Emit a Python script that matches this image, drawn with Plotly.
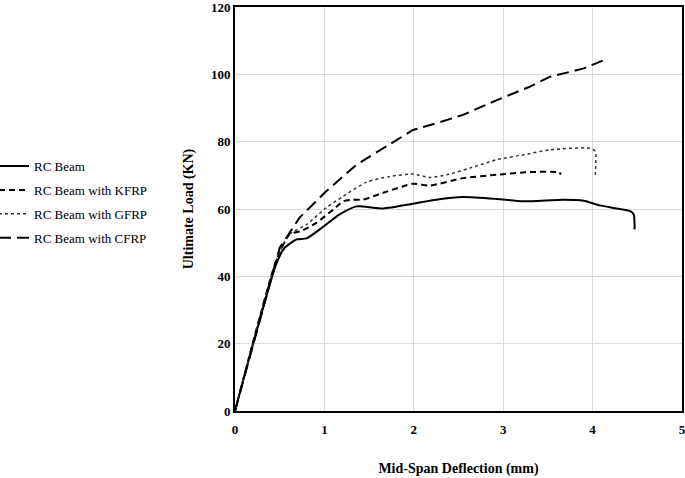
import plotly.graph_objects as go

# Data
rc_x = [0, 0.46, 0.556, 0.69, 0.80, 0.97, 1.17, 1.36, 1.66, 1.99, 2.25, 2.55, 2.93, 3.22, 3.67, 3.90, 4.08, 4.27, 4.42, 4.46, 4.47]
rc_y = [0, 43.6, 48.5, 51.0, 51.3, 54.4, 58.4, 60.8, 60.2, 61.6, 62.8, 63.6, 63.0, 62.3, 62.8, 62.5, 61.1, 60.2, 59.4, 58.4, 53.9]

kfrp_x = [0, 0.46, 0.61, 0.74, 0.91, 1.10, 1.21, 1.32, 1.43, 1.62, 1.99, 2.18, 2.55, 2.93, 3.30, 3.60, 3.65]
kfrp_y = [0, 44.6, 52.5, 53.5, 55.9, 59.9, 62.3, 62.8, 62.8, 64.5, 67.5, 67.0, 69.2, 70.2, 71.0, 71.0, 70.4]

gfrp_x = [0, 0.46, 0.61, 0.80, 1.02, 1.21, 1.47, 1.73, 1.99, 2.18, 2.37, 2.63, 2.93, 3.22, 3.52, 3.97, 4.03, 4.03]
gfrp_y = [0, 44.6, 52.5, 55.4, 60.4, 63.8, 68.0, 69.7, 70.4, 69.4, 70.2, 72.2, 74.7, 76.1, 77.6, 78.1, 77.1, 70.2]

cfrp_x = [0, 0.50, 0.72, 1.02, 1.36, 1.66, 1.99, 2.25, 2.55, 2.93, 3.30, 3.52, 3.90, 4.12]
cfrp_y = [0, 48.5, 57.4, 65.3, 73.2, 78.1, 83.5, 85.5, 88.0, 92.4, 96.4, 99.3, 101.8, 104.2]

names = ["RC Beam", "RC Beam with KFRP", "RC Beam with GFRP", "RC Beam with CFRP"]
x_ticks = [0, 1, 2, 3, 4, 5]
y_ticks = [0, 20, 40, 60, 80, 100, 120]

serif = "Liberation Serif, Times New Roman, serif"

fig = go.Figure()
fig.add_trace(go.Scatter(x=rc_x, y=rc_y, mode="lines", name=names[0], legendgroup="a",
                         line=dict(color="black", width=2, dash="solid", shape="spline", smoothing=0.6)))
fig.add_trace(go.Scatter(x=kfrp_x, y=kfrp_y, mode="lines", name=names[1], legendgroup="b",
                         line=dict(color="black", width=2, dash="6px,4px", shape="spline", smoothing=0.6)))
fig.add_trace(go.Scatter(x=gfrp_x, y=gfrp_y, mode="lines", name=names[2], legendgroup="c",
                         line=dict(color="#333333", width=1.5, dash="dot", shape="spline", smoothing=0.6)))
fig.add_trace(go.Scatter(x=cfrp_x, y=cfrp_y, mode="lines", name=names[3], legendgroup="d",
                         line=dict(color="black", width=2, dash="12px,6px")))

axis_common = dict(
    showgrid=True, gridcolor="#d9d9d9", gridwidth=1,
    showline=True, linecolor="black", linewidth=2, mirror=True,
    zeroline=False, ticks="", automargin=False, ticklabeloverflow="allow",
    tickfont=dict(family=serif, size=13, color="black", weight="bold"),
)

fig.update_xaxes(range=[0, 5], tickvals=x_ticks, ticklabelstandoff=5, **axis_common,
                 title=dict(text="<b>Mid-Span Deflection (mm)</b>", standoff=28,
                            font=dict(family=serif, size=14, color="black")))
fig.update_yaxes(range=[0, 120.05], tickvals=y_ticks, ticklabelstandoff=0, **axis_common,
                 title=dict(text="<b>Ultimate Load (KN)</b>", standoff=14,
                            font=dict(family=serif, size=14, color="black")))

fig.update_layout(
    width=685, height=478,
    margin=dict(l=235, r=3, t=7, b=67),
    paper_bgcolor="white", plot_bgcolor="white",
    legend=dict(xref="container", yref="container", x=0, y=0.684, xanchor="left", yanchor="top",
                font=dict(family=serif, size=13, color="black"), indentation=-6,
                bgcolor="rgba(0,0,0,0)", itemwidth=30, tracegroupgap=4),
    showlegend=True,
)

fig.write_html("out.html", config={"displayModeBar": False},
               post_script="document.body.style.margin='0px';document.body.style.overflow='hidden';")
